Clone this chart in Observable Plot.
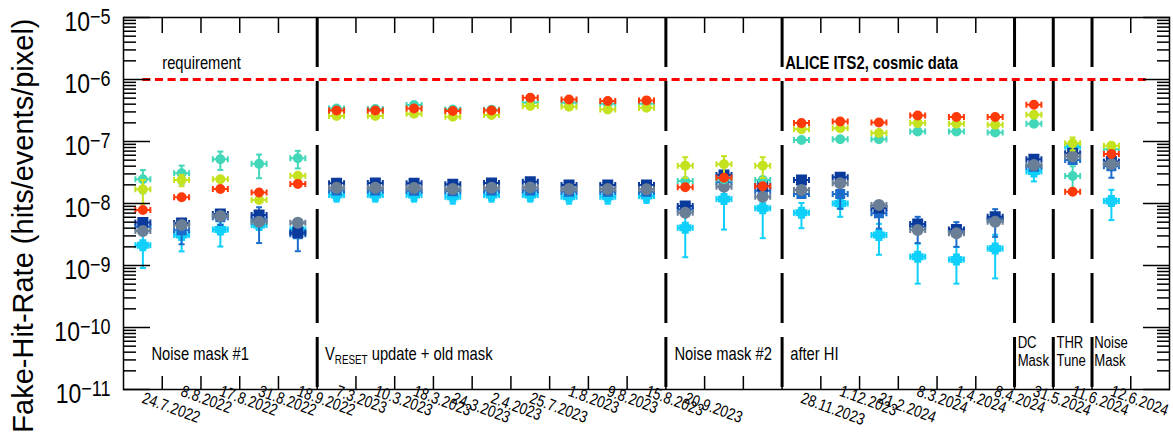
<!DOCTYPE html>
<html><head><meta charset="utf-8">
<script src="https://cdn.jsdelivr.net/npm/d3@7"></script>
<script src="https://cdn.jsdelivr.net/npm/@observablehq/plot@0.6"></script>
<style>body{margin:0;background:#fff;} #chart svg{display:block;}</style>
</head><body><div id="chart"></div>
<script>
// ---------- data ----------
const binLabels = ["24.7.2022","8.8.2022","17.8.2022","31.8.2022","18.9.2022",
  "7.3.2023","10.3.2023","18.3.2023","24.3.2023","2.4.2023","25.7.2023","1.8.2023","9.8.2023","15.8.2023",
  "20.9.2023","","",
  "28.11.2023","1.12.2023","21.2.2024","8.3.2024","1.4.2024","8.4.2024",
  "31.5.2024","11.6.2024","12.6.2024",""];
const sectionEdges = [5, 14, 17, 23, 24, 25];
const requirement = 1e-6;
const yMajor = [1e-11, 1e-10, 1e-9, 1e-8, 1e-7, 1e-6, 1e-5];

const tealVals = [2.46e-8,3.08e-8,5.18e-8,4.36e-8,5.37e-8,
  3.41e-7,3.35e-7,3.87e-7,3.29e-7,3.25e-7,4.22e-7,4.2e-7,4.07e-7,4.07e-7,
  2.31e-8,2.46e-8,2.4e-8,
  1.06e-7,1.09e-7,1.09e-7,1.45e-7,1.45e-7,1.4e-7,
  1.93e-7,2.78e-8,7.5e-8];
const tealErr = [1.0e-8,1.0e-8,1.7e-8,1.8e-8,1.7e-8,
  null,null,null,null,null,null,null,null,null,
  null,null,null,
  null,null,null,null,null,null,
  null,1.2e-8,null];

const yellowVals = [1.69e-8,2.4e-8,2.46e-8,1.14e-8,2.79e-8,
  2.57e-7,2.57e-7,2.8e-7,2.5e-7,2.67e-7,3.73e-7,3.64e-7,3.29e-7,3.5e-7,
  4.08e-8,4.3e-8,4.08e-8,
  1.58e-7,1.64e-7,1.37e-7,1.98e-7,1.93e-7,1.86e-7,
  2.7e-7,9.4e-8,8.51e-8];
const yellowErr = [7e-9,5e-9,null,null,null,
  null,null,null,null,null,null,null,null,null,
  1.5e-8,1.5e-8,1.5e-8,
  null,null,null,null,null,null,
  null,2.2e-8,null];

const redVals = [7.85e-9,1.26e-8,1.71e-8,1.5e-8,2.07e-8,
  3.17e-7,3.17e-7,3.41e-7,3.1e-7,3.17e-7,5.08e-7,4.77e-7,4.5e-7,4.6e-7,
  1.83e-8,2.6e-8,1.9e-8,
  1.98e-7,2.1e-7,2.03e-7,2.63e-7,2.48e-7,2.48e-7,
  3.92e-7,1.55e-8,6.31e-8];

const darkBlueVals = [4.95e-9,4.83e-9,6.76e-9,6.5e-9,3.4e-9,
  2.12e-8,2.15e-8,2.12e-8,2.04e-8,2.15e-8,2.25e-8,1.99e-8,1.99e-8,1.99e-8,
  9.1e-9,2.89e-8,1.92e-8,
  2.4e-8,2.65e-8,8.45e-9,4.66e-9,3.82e-9,6.12e-9,
  5.19e-8,6.48e-8,4.74e-8];

const grayVals = [3.59e-9,4.49e-9,6.3e-9,5.08e-9,4.9e-9,
  1.8e-8,1.8e-8,1.78e-8,1.72e-8,1.8e-8,1.82e-8,1.72e-8,1.72e-8,1.7e-8,
  7.1e-9,1.87e-8,1.29e-8,
  1.65e-8,2.12e-8,9.46e-9,3.73e-9,3.3e-9,5.08e-9,
  4.19e-8,5.71e-8,4.35e-8];

const midBlueVals = [4.2e-9,3.7e-9,6.0e-9,5.5e-9,3.2e-9,
  1.62e-8,1.62e-8,1.6e-8,1.58e-8,1.62e-8,1.62e-8,1.55e-8,1.55e-8,1.55e-8,
  8e-9,2.2e-8,1.6e-8,
  1.42e-8,1.42e-8,6.94e-9,4.2e-9,3.5e-9,5.5e-9,
  3.9e-8,5.05e-8,4.0e-8];
const midBlueErr = [null,1.5e-9,1.5e-9,3.2e-9,1.5e-9,
  null,null,null,null,null,null,null,null,null,
  null,null,null,
  null,6e-9,3e-9,1.9e-9,1.5e-9,2.6e-9,
  null,null,1.4e-8];

const cyanVals = [2.13e-9,3.09e-9,3.82e-9,4.5e-9,3.82e-9,
  1.37e-8,1.37e-8,1.37e-8,1.29e-8,1.37e-8,1.37e-8,1.29e-8,1.29e-8,1.32e-8,
  4.06e-9,1.18e-8,8.36e-9,
  7.1e-9,1.0e-8,3.09e-9,1.38e-9,1.25e-9,1.88e-9,
  3.27e-8,8.3e-8,1.1e-8];
const cyanErr = [1.22e-9,1.4e-9,1.8e-9,null,null,
  3e-9,3e-9,3e-9,3e-9,3e-9,3e-9,3e-9,3e-9,3e-9,
  2.7e-9,8e-9,5.6e-9,
  3.1e-9,3.9e-9,1.6e-9,8.7e-10,7.4e-10,1.26e-9,
  1e-8,null,5.6e-9];

// ---------- marker shapes ----------
const W = 7.5;
function withWhiskers(core) {
  return {draw(ctx) {
    core(ctx);
    ctx.rect(-W, -1, 2 * W, 2);
    ctx.rect(-W - 1, -3, 2, 6);
    ctx.rect(W - 1, -3, 2, 6);
  }};
}
const circleSym = r => withWhiskers(ctx => { ctx.moveTo(r, 0); ctx.arc(0, 0, r, 0, 2 * Math.PI); });
const squareSym = s => withWhiskers(ctx => ctx.rect(-s / 2, -s / 2, s, s));
const plusSym = (a, b) => withWhiskers(ctx => { ctx.rect(-a / 2, -b / 2, a, b); ctx.rect(-b / 2, -a / 2, b, a); });
const capSym = {draw(ctx) { ctx.rect(-3, -1, 6, 2); }};

const series = [
  {values: cyanVals, errors: cyanErr, color: "#0fcffb", symbol: plusSym(12, 7)},
  {values: midBlueVals, errors: midBlueErr, color: "#1b6ccb", symbol: squareSym(10)},
  {values: darkBlueVals, errors: null, color: "#0a3a9c", symbol: squareSym(11)},
  {values: grayVals, errors: null, color: "#6a7e95", symbol: circleSym(6)},
  {values: tealVals, errors: tealErr, color: "#43d7b9", symbol: circleSym(5)},
  {values: yellowVals, errors: yellowErr, color: "#c5e21f", symbol: circleSym(5)},
  {values: redVals, errors: null, color: "#ff3a0a", symbol: circleSym(5)}
];

const sans = "'Liberation Sans', Arial, Helvetica, sans-serif";

const seriesMarks = series.flatMap(s => {
  const pts = s.values.map((v, i) => ({x: i + 0.5, v, e: s.errors ? s.errors[i] : null})).filter(d => d.v != null);
  const errs = pts.filter(d => d.e != null).map(d => ({x: d.x, lo: d.v - d.e, hi: d.v + d.e}));
  const caps = errs.flatMap(d => [{x: d.x, y: d.lo}, {x: d.x, y: d.hi}]);
  return [
    Plot.ruleX(errs, {x: "x", y1: "lo", y2: "hi", stroke: s.color, strokeWidth: 2}),
    Plot.dot(caps, {x: "x", y: "y", symbol: capSym, fill: s.color, stroke: "none"}),
    Plot.dot(pts, {x: "x", y: "v", symbol: s.symbol, fill: s.color, stroke: "none", r: 5})
  ];
});

const minors = [];
for (let k = -11; k < -5; k++) for (let m = 2; m <= 9; m++) minors.push(m * Math.pow(10, k));
const edges = d3.range(1, binLabels.length);
const centers = d3.range(binLabels.length).map(i => i + 0.5);
const yTitle = "Fake-Hit-Rate (hits/events/pixel)";

const chart = Plot.plot({
  width: 1173, height: 432,
  marginLeft: 123, marginRight: 4, marginTop: 17, marginBottom: 43,
  x: {domain: [0, binLabels.length], label: null},
  y: {type: "log", domain: [1e-11, 1e-5], label: null},
  style: {fontFamily: sans, fontSize: "17px", background: "#fff", color: "#000"},
  marks: [
    ...seriesMarks,
    Plot.ruleY([requirement], {x1: 0.5, x2: 26.5, stroke: "#ff0000", strokeWidth: 3, strokeDasharray: "8,4.6"}),
    Plot.ruleX(sectionEdges, {y1: 1e-5, y2: 1e-11, stroke: "#000", strokeWidth: 3, strokeDasharray: "50,14"}),
    Plot.text(["requirement"], {x: 1.0, y: 1.5e-6, textAnchor: "start", lineAnchor: "bottom", fontSize: 18}),
    Plot.text(["ALICE ITS2, cosmic data"], {x: 17.08, y: 1.5e-6, textAnchor: "start", lineAnchor: "bottom", fontSize: 18, fontWeight: "bold"}),
    Plot.text(["Noise mask #1"], {x: 0.72, y: 2.94e-11, textAnchor: "start", lineAnchor: "bottom", fontSize: 18}),
    Plot.text(["VRESET update + old mask"], {x: 5.2, y: 2.94e-11, textAnchor: "start", lineAnchor: "bottom", fontSize: 18}),
    Plot.text(["Noise mask #2"], {x: 14.22, y: 2.94e-11, textAnchor: "start", lineAnchor: "bottom", fontSize: 18}),
    Plot.text(["after HI"], {x: 17.21, y: 2.94e-11, textAnchor: "start", lineAnchor: "bottom", fontSize: 18}),
    Plot.text(["DC\nMask", "THR\nTune", "Noise\nMask"], {x: [23.08, 24.08, 25.06], y: [2.4e-11, 2.4e-11, 2.4e-11], textAnchor: "start", lineAnchor: "bottom", lineHeight: 1.15, fontSize: 16}),
    Plot.text([yTitle], {frameAnchor: "top-left", dx: -91, dy: 1, rotate: -90, textAnchor: "end", lineAnchor: "bottom", fontSize: 29}),
    Plot.axisX(edges, {anchor: "bottom", tickSize: -13, tickFormat: () => "", strokeWidth: 1.5}),
    Plot.axisX(edges, {anchor: "top", tickSize: -15, tickFormat: () => "", strokeWidth: 1.5}),
    Plot.axisX(centers, {anchor: "bottom", tickSize: 0, tickPadding: 1, tickRotate: 20, textAnchor: "start", tickFormat: d => binLabels[Math.floor(d)], fontSize: 16.5}),
    Plot.axisY(yMajor, {anchor: "left", tickSize: -27, tickFormat: () => "", strokeWidth: 1.5}),
    Plot.axisY(minors, {anchor: "left", tickSize: -13, tickFormat: () => "", strokeWidth: 1.5}),
    Plot.axisY(yMajor, {anchor: "right", tickSize: -27, tickFormat: () => "", strokeWidth: 1.5}),
    Plot.axisY(minors, {anchor: "right", tickSize: -13, tickFormat: () => "", strokeWidth: 1.5}),
    Plot.axisY(yMajor, {anchor: "left", tickSize: 0, tickPadding: 13, dy: 5, fontSize: 28, tickFormat: d => "10^" + Math.round(Math.log10(d))}),
    Plot.frame({stroke: "#000", strokeWidth: 1.5})
  ]
});

// superscripts / subscripts as real text, and the narrow ROOT lettering
const NS = "http://www.w3.org/2000/svg";
const dateLabels = new Set(binLabels.filter(d => d));
d3.select(chart).selectAll("text").each(function() {
  const t = this.textContent;
  const m = /^10\^(-?\d+)$/.exec(t);
  if (m) {
    this.textContent = "";
    const a = document.createElementNS(NS, "tspan"); a.textContent = "10"; this.appendChild(a);
    const b = document.createElementNS(NS, "tspan");
    b.setAttribute("dy", "-7"); b.setAttribute("font-size", "22");
    b.textContent = m[1].replace("-", "\u2212"); this.appendChild(b);
  } else if (t === "VRESET update + old mask") {
    this.textContent = "V";
    const a = document.createElementNS(NS, "tspan");
    a.setAttribute("dy", "4"); a.setAttribute("font-size", "12"); a.textContent = "RESET"; this.appendChild(a);
    const b = document.createElementNS(NS, "tspan");
    b.setAttribute("dy", "-4"); b.textContent = " update + old mask"; this.appendChild(b);
  }
  if (t !== yTitle && t !== "") {
    let tr = this.getAttribute("transform") || "";
    // the original's rotated date labels beginning with "2" sit a little lower
    if (dateLabels.has(t) && t[0] === "2") tr = "translate(0,7) " + tr;
    this.setAttribute("transform", (tr + " scale(0.82,1)").trim());
  }
});
document.getElementById("chart").appendChild(chart);
</script>
</body></html>
